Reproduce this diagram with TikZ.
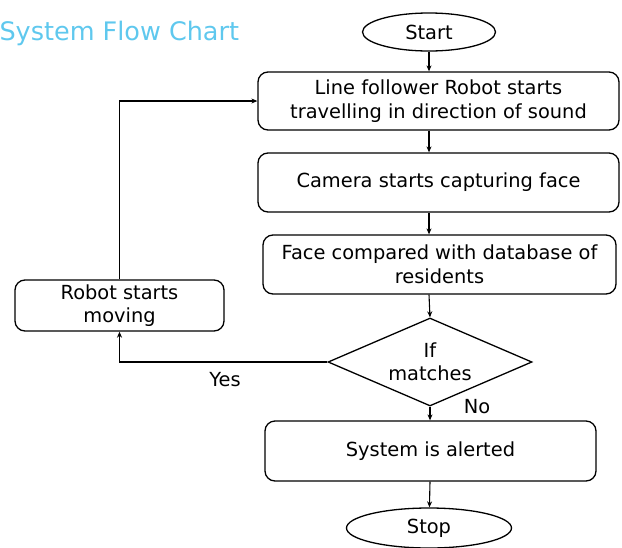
\documentclass[tikz,border=0pt]{standalone}
\usepackage{fontspec}
\setmainfont{DejaVu Sans}
\usetikzlibrary{shapes.geometric,arrows.meta}
\definecolor{titleblue}{RGB}{95,200,238}
\tikzset{
  base/.style={draw=black, line width=1.3pt, inner sep=0pt, align=center, font=\fontsize{19.4}{23.5}\selectfont},
  proc/.style={base, rounded corners=10pt, rectangle},
  term/.style={base, ellipse},
  dec/.style={base, diamond, aspect=2.3},
  arr/.style={line width=1.1pt, -{Stealth[length=6pt,width=5pt]}},
  lbl/.style={font=\fontsize{19.4}{20}\selectfont}
}
\begin{document}
\begin{tikzpicture}[x=1pt,y=-1pt]
\useasboundingbox (0,0) rectangle (622,547);
\node[anchor=base west, text=titleblue, font=\fontsize{25.5}{30}\selectfont] (title) at (-4,40) {System Flow Chart};
\node[term, minimum width=133pt, minimum height=38pt] (start) at (429,32) {Start};
\node[proc, minimum width=361pt, minimum height=58pt] (b1) at (438.5,101) {Line follower Robot starts\\travelling in direction of sound};
\node[proc, minimum width=361pt, minimum height=59pt] (b2) at (438.5,182.5) {Camera starts capturing face};
\node[proc, minimum width=353pt, minimum height=59pt] (b3) at (439.5,264.5) {Face compared with database of\\residents};
\node[dec, minimum width=204pt, minimum height=88pt] (d) at (430,362) {If\\matches};
\node[proc, minimum width=331pt, minimum height=60pt] (b4) at (430.5,451) {System is alerted};
\node[term, minimum width=165pt, minimum height=40pt] (stop) at (429,528) {Stop};
\node[proc, minimum width=209pt, minimum height=51pt] (robot) at (119.5,305.5) {Robot starts\\moving};
\node[lbl] (yes) at (225,380) {Yes};
\node[lbl] (no) at (477,407) {No};
\draw[arr] (start) -- (start|-b1.north);
\draw[arr] (start|-b1.south) -- (start|-b2.north);
\draw[arr] (start|-b2.south) -- (start|-b3.north);
\draw[arr] (start|-b3.south) -- (d.north);
\draw[arr] (d.south) -- (d.south|-b4.north);
\draw[arr] (d.south|-b4.south) -- (stop);
\draw[arr] (d.west) -| (robot.south);
\draw[arr] (robot.north) |- (b1.west);
\end{tikzpicture}
\end{document}
